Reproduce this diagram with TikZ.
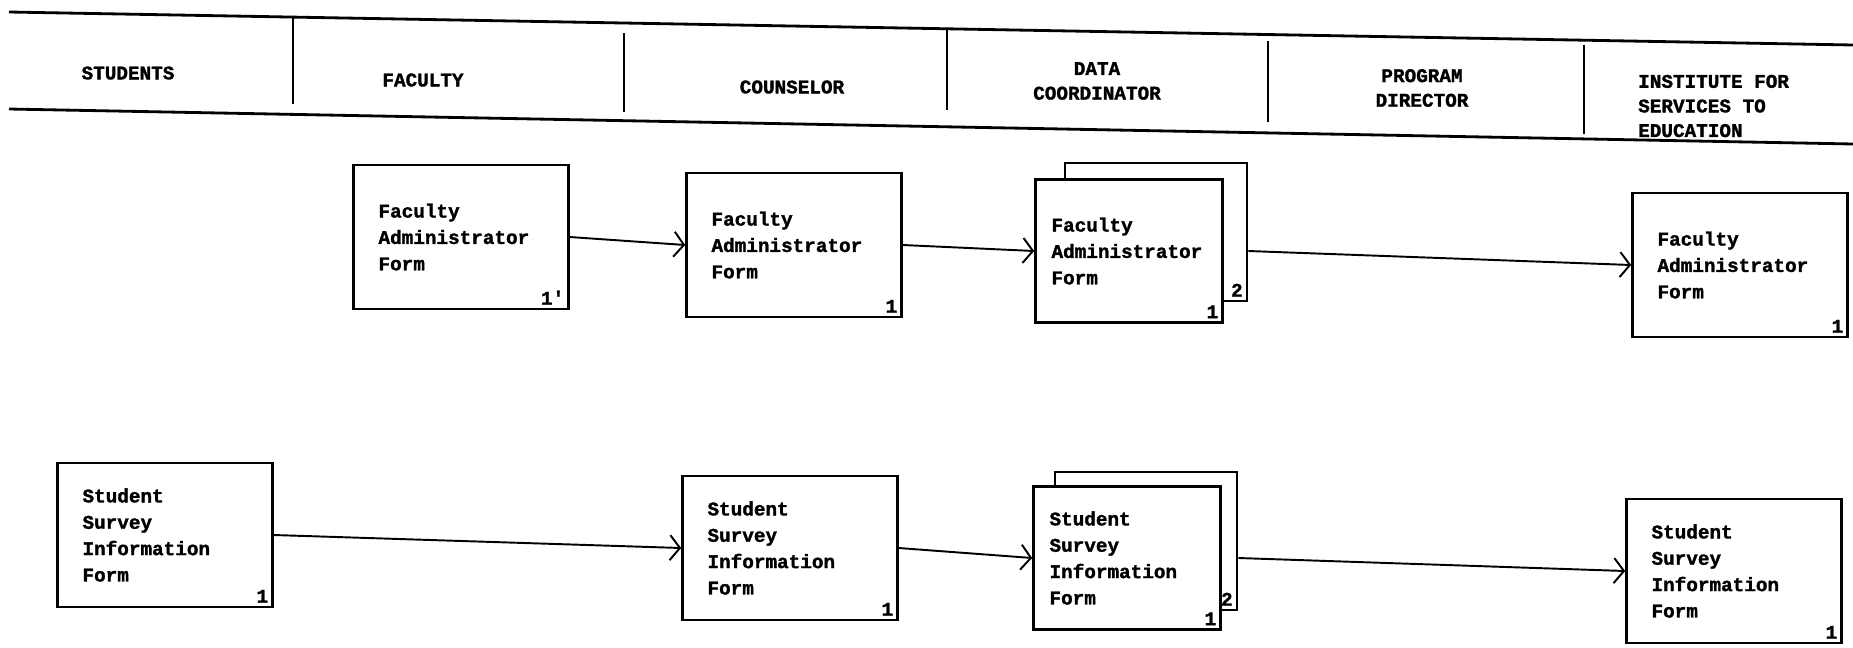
\documentclass[tikz,border=0pt]{standalone}
\usepackage{fontspec}
\setmonofont[BoldFeatures={FakeBold=1.5}]{Liberation Mono}
\usetikzlibrary{arrows.meta}

\begin{document}
\begin{tikzpicture}
[x=0.02cm,y=-0.02cm,
  rule/.style={-,line width=1.6pt},%
  flow/.style={-{Straight Barb[length=2mm,width=5mm]},line width=1.1pt},%
  form/.style={shape=rectangle,draw,line width=1.5pt,fill=white,minimum width=4.3cm,minimum height=2.88cm,text width=3.3cm,align=left,font=\ttfamily\bfseries\fontsize{11}{15}\selectfont},%
  copyform/.style={form,minimum width=3.74cm,minimum height=2.86cm,text width=3.1cm},%
  backcopy/.style={shape=rectangle,draw,line width=1.5pt,fill=white,minimum width=3.64cm,minimum height=2.76cm},%
  numtag/.style={anchor=south east,inner sep=3pt,font=\ttfamily\bfseries\fontsize{11}{13}\selectfont},%
  lane/.style={align=center,font=\ttfamily\bfseries\fontsize{11}{14}\selectfont}]
\useasboundingbox (0,0) rectangle (1853,647);
%% header band
\draw[rule] (9,12) -- (1853,45);
\draw[rule] (9,109) -- (1853,144);
\foreach \x/\ya/\yb in {293/18/104, 624/33/112, 947/30/110, 1268/41/122, 1584/45/134}
{
  \draw[rule] (\x,\ya) -- (\x,\yb);
}
%% lane titles
\foreach \nodename/\x/\y/\txt in {students/128/73/STUDENTS, faculty/423/80/FACULTY, counselor/792/87/COUNSELOR, coordinator/1097/81/{DATA\\COORDINATOR}, director/1422/88/{PROGRAM\\DIRECTOR}}
{
  \node[lane] (\nodename) at (\x,\y) {\txt};
}
\node[lane,align=left,anchor=west] (institute) at (1632,106) {INSTITUTE FOR\\SERVICES TO\\EDUCATION};
%% second copies behind
\node[backcopy] (fa3b) at (1156,232) {};
\node[backcopy] (ss3b) at (1146,541) {};
%% forms
\foreach \nodename/\x/\y/\txt in {fa1/461/237/{Faculty\\Administrator\\Form}, fa2/794/245/{Faculty\\Administrator\\Form}, fa4/1740/265/{Faculty\\Administrator\\Form}, ss1/165/535/{Student\\Survey\\Information\\Form}, ss2/790/548/{Student\\Survey\\Information\\Form}, ss4/1734/571/{Student\\Survey\\Information\\Form}}
{
  \node[form] (\nodename) at (\x,\y) {\txt};
}
\node[copyform] (fa3) at (1129,251) {Faculty\\Administrator\\Form};
\node[copyform] (ss3) at (1127,558) {Student\\Survey\\Information\\Form};
%% copy numbers
\foreach \formname/\num in {fa1/1', fa2/1, fa3/1, fa3b/2, fa4/1, ss1/1, ss2/1, ss3/1, ss3b/2, ss4/1}
{
  \node[numtag] (\formname-tag) at (\formname.south east) {\num};
}
%% flow of forms
\draw[flow] (fa1.east) -- (fa2.west);
\draw[flow] (fa2.east) -- (fa3.west);
\draw[flow] (fa3.east -| fa3b.east) -- (fa4.west);
\draw[flow] (ss1.east) -- (ss2.west);
\draw[flow] (ss2.east) -- (ss3.west);
\draw[flow] (ss3.east -| ss3b.east) -- (ss4.west);
\end{tikzpicture}
\end{document}
